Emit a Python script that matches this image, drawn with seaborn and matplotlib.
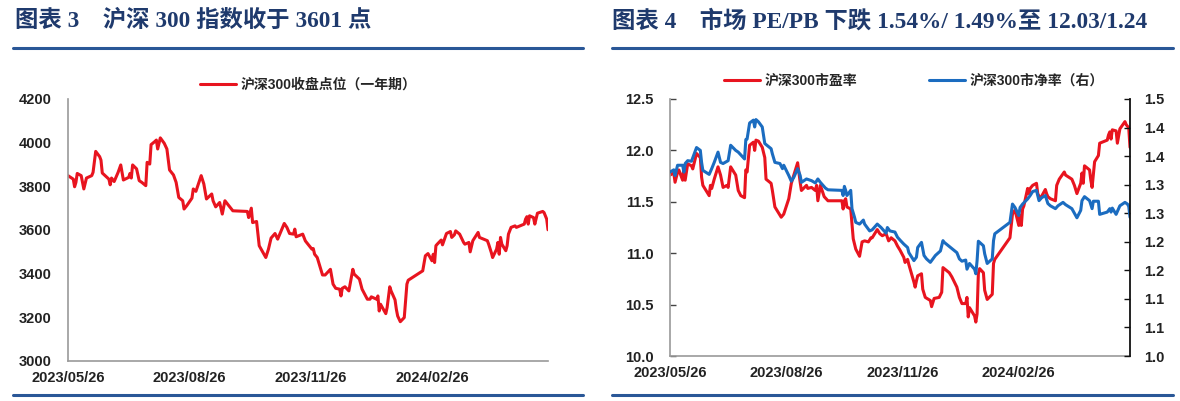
import pandas as pd
import numpy as np
import matplotlib
matplotlib.use('Agg')
import matplotlib.pyplot as plt
from matplotlib.lines import Line2D
import seaborn as sns

# 沪深300 收盘点位
hs300_dates = [
    '2023-05-26', '2023-05-30', '2023-05-31', '2023-06-01', '2023-06-02', '2023-06-05', '2023-06-07', '2023-06-09', '2023-06-13', '2023-06-14', '2023-06-16', '2023-06-19', '2023-06-20', '2023-06-21', '2023-06-26', '2023-06-27', '2023-06-28', '2023-06-30',
    '2023-07-03', '2023-07-05', '2023-07-07', '2023-07-11', '2023-07-12', '2023-07-13', '2023-07-14', '2023-07-17', '2023-07-19', '2023-07-21', '2023-07-24', '2023-07-25', '2023-07-27', '2023-07-28', '2023-07-31',
    '2023-08-01', '2023-08-02', '2023-08-04', '2023-08-07', '2023-08-09', '2023-08-11', '2023-08-14', '2023-08-16', '2023-08-18', '2023-08-21', '2023-08-22', '2023-08-24', '2023-08-28', '2023-08-29', '2023-08-31',
    '2023-09-04', '2023-09-06', '2023-09-08', '2023-09-12', '2023-09-13', '2023-09-15', '2023-09-18', '2023-09-20', '2023-09-22', '2023-09-25', '2023-09-26', '2023-09-28',
    '2023-10-09', '2023-10-10', '2023-10-12', '2023-10-13', '2023-10-16', '2023-10-18', '2023-10-23', '2023-10-25', '2023-10-27', '2023-10-30',
    '2023-11-01', '2023-11-06', '2023-11-08', '2023-11-10', '2023-11-13', '2023-11-14', '2023-11-15', '2023-11-20', '2023-11-22', '2023-11-27', '2023-11-28', '2023-11-29',
    '2023-12-01', '2023-12-05', '2023-12-07', '2023-12-11', '2023-12-13', '2023-12-15', '2023-12-18', '2023-12-19', '2023-12-20', '2023-12-22', '2023-12-25', '2023-12-28', '2023-12-29',
    '2024-01-02', '2024-01-04', '2024-01-08', '2024-01-10', '2024-01-11', '2024-01-15', '2024-01-16', '2024-01-17', '2024-01-18', '2024-01-22', '2024-01-23', '2024-01-25', '2024-01-26', '2024-01-29', '2024-01-30', '2024-01-31',
    '2024-02-02', '2024-02-05', '2024-02-07', '2024-02-08', '2024-02-19', '2024-02-21', '2024-02-23', '2024-02-26', '2024-02-27', '2024-02-28', '2024-02-29',
    '2024-03-01', '2024-03-04', '2024-03-05', '2024-03-07', '2024-03-08', '2024-03-11', '2024-03-12', '2024-03-14', '2024-03-15', '2024-03-18', '2024-03-21', '2024-03-22', '2024-03-25', '2024-03-26', '2024-03-28',
    '2024-04-01', '2024-04-02', '2024-04-08', '2024-04-09', '2024-04-11', '2024-04-12', '2024-04-15', '2024-04-16', '2024-04-17', '2024-04-18', '2024-04-19', '2024-04-22', '2024-04-23', '2024-04-24', '2024-04-26', '2024-04-29', '2024-04-30',
    '2024-05-06', '2024-05-07', '2024-05-08', '2024-05-09', '2024-05-10', '2024-05-13', '2024-05-14', '2024-05-16', '2024-05-20', '2024-05-21', '2024-05-23', '2024-05-24',
]
hs300_close = [
    3849, 3833, 3798, 3818, 3859, 3849, 3788, 3838, 3849, 3864, 3960, 3936, 3920, 3861, 3833, 3807, 3838, 3822,
    3864, 3898, 3829, 3841, 3859, 3838, 3898, 3880, 3826, 3818, 3803, 3910, 3902, 3991, 4006,
    4012, 3971, 4022, 3997, 3971, 3875, 3852, 3818, 3749, 3734, 3696, 3711, 3746, 3788, 3777,
    3849, 3811, 3742, 3765, 3734, 3706, 3726, 3673, 3734, 3711, 3703, 3688,
    3685, 3657, 3700, 3634, 3639, 3528, 3474, 3512, 3563, 3584,
    3558, 3630, 3612, 3584, 3581, 3604, 3569, 3581, 3550, 3512, 3515, 3489,
    3474, 3394, 3394, 3420, 3352, 3333, 3329, 3298, 3333, 3340, 3321, 3420, 3398,
    3375, 3329, 3283, 3283, 3294, 3283, 3298, 3229, 3260, 3217, 3245, 3340, 3321, 3280, 3237, 3206,
    3180, 3199, 3352, 3370, 3413, 3482, 3492, 3459, 3489, 3451, 3528,
    3535, 3554, 3532, 3566, 3584, 3593, 3566, 3578, 3596, 3581, 3543, 3535, 3543, 3500, 3551,
    3589, 3566, 3551, 3535, 3497, 3474, 3512, 3543, 3489, 3566, 3535, 3505, 3528, 3581, 3612, 3619, 3612,
    3627, 3650, 3661, 3627, 3665, 3657, 3627, 3677, 3685, 3680, 3650, 3601,
]

# 沪深300 市盈率
pe_dates = [
    '2023-05-26', '2023-05-29', '2023-05-30', '2023-06-01', '2023-06-02', '2023-06-05', '2023-06-06', '2023-06-07', '2023-06-09', '2023-06-12', '2023-06-13', '2023-06-16', '2023-06-19', '2023-06-20', '2023-06-21', '2023-06-26', '2023-06-27', '2023-06-28', '2023-06-30',
    '2023-07-03', '2023-07-05', '2023-07-07', '2023-07-10', '2023-07-11', '2023-07-13', '2023-07-17', '2023-07-19', '2023-07-21', '2023-07-24', '2023-07-25', '2023-07-26', '2023-07-28', '2023-07-31',
    '2023-08-01', '2023-08-02', '2023-08-04', '2023-08-07', '2023-08-09', '2023-08-10', '2023-08-14', '2023-08-15', '2023-08-17', '2023-08-21', '2023-08-22', '2023-08-24', '2023-08-28', '2023-08-30',
    '2023-09-01', '2023-09-04', '2023-09-06', '2023-09-07', '2023-09-11', '2023-09-12', '2023-09-15', '2023-09-18', '2023-09-19', '2023-09-20', '2023-09-22', '2023-09-25', '2023-09-28',
    '2023-10-09', '2023-10-10', '2023-10-11', '2023-10-12', '2023-10-13', '2023-10-16', '2023-10-17', '2023-10-18', '2023-10-20', '2023-10-23', '2023-10-25', '2023-10-27', '2023-10-30',
    '2023-11-01', '2023-11-02', '2023-11-06', '2023-11-08', '2023-11-10', '2023-11-13', '2023-11-15', '2023-11-17', '2023-11-20', '2023-11-22', '2023-11-24', '2023-11-27', '2023-11-28', '2023-11-30',
    '2023-12-01', '2023-12-05', '2023-12-06', '2023-12-07', '2023-12-08', '2023-12-11', '2023-12-12', '2023-12-14', '2023-12-18', '2023-12-19', '2023-12-21', '2023-12-25', '2023-12-27', '2023-12-28',
    '2024-01-02', '2024-01-04', '2024-01-08', '2024-01-10', '2024-01-12', '2024-01-15', '2024-01-16', '2024-01-17', '2024-01-18', '2024-01-22', '2024-01-23', '2024-01-24', '2024-01-25', '2024-01-26', '2024-01-29', '2024-01-30',
    '2024-02-01', '2024-02-05', '2024-02-06', '2024-02-07', '2024-02-19', '2024-02-21', '2024-02-23', '2024-02-26', '2024-02-27', '2024-02-28', '2024-02-29',
    '2024-03-01', '2024-03-04', '2024-03-05', '2024-03-06', '2024-03-08', '2024-03-11', '2024-03-12', '2024-03-14', '2024-03-18', '2024-03-19', '2024-03-20', '2024-03-22', '2024-03-26', '2024-03-27', '2024-03-29',
    '2024-04-02', '2024-04-03', '2024-04-08', '2024-04-10', '2024-04-12', '2024-04-15', '2024-04-16', '2024-04-17', '2024-04-18', '2024-04-22', '2024-04-23', '2024-04-24', '2024-04-25', '2024-04-26', '2024-04-29', '2024-04-30',
    '2024-05-06', '2024-05-07', '2024-05-08', '2024-05-09', '2024-05-10', '2024-05-13', '2024-05-14', '2024-05-16', '2024-05-20', '2024-05-21', '2024-05-23', '2024-05-24',
]
pe_values = [
    11.76, 11.78, 11.69, 11.79, 11.81, 11.71, 11.84, 11.71, 11.87, 11.85, 11.82, 11.97, 11.93, 11.74, 11.66, 11.56, 11.66, 11.63, 11.72,
    11.84, 11.76, 11.64, 11.66, 11.64, 11.84, 11.76, 11.61, 11.56, 11.54, 11.81, 11.79, 12.05, 12.08,
    12.00, 12.10, 12.09, 12.03, 11.93, 11.72, 11.68, 11.61, 11.45, 11.37, 11.35, 11.38, 11.53, 11.68,
    11.76, 11.88, 11.69, 11.61, 11.66, 11.63, 11.64, 11.61, 11.66, 11.51, 11.66, 11.55, 11.51,
    11.51, 11.43, 11.51, 11.53, 11.45, 11.43, 11.29, 11.14, 11.04, 10.97, 11.11, 11.12, 11.11,
    11.15, 11.15, 11.23, 11.19, 11.17, 11.19, 11.12, 11.15, 11.12, 11.07, 11.03, 10.96, 10.91, 10.94,
    10.89, 10.72, 10.67, 10.73, 10.78, 10.80, 10.65, 10.57, 10.54, 10.48, 10.56, 10.57, 10.62, 10.86,
    10.81, 10.77, 10.67, 10.57, 10.51, 10.51, 10.57, 10.38, 10.47, 10.39, 10.33, 10.41, 10.80, 10.85, 10.81, 10.64,
    10.55, 10.60, 10.90, 10.94, 11.15, 11.38, 11.42, 11.27, 11.37, 11.27, 11.43,
    11.46, 11.63, 11.58, 11.63, 11.66, 11.68, 11.58, 11.53, 11.62, 11.58, 11.55, 11.53, 11.51, 11.66, 11.72,
    11.79, 11.76, 11.72, 11.66, 11.58, 11.68, 11.78, 11.68, 11.85, 11.81, 11.71, 11.64, 11.77, 11.89, 11.95, 12.07,
    12.10, 12.15, 12.18, 12.11, 12.20, 12.19, 12.07, 12.21, 12.28, 12.25, 12.22, 12.03,
]

# 沪深300 市净率 (右轴)
pb_dates = [
    '2023-05-26', '2023-05-29', '2023-05-30', '2023-06-01', '2023-06-05', '2023-06-06', '2023-06-07', '2023-06-09', '2023-06-12', '2023-06-16', '2023-06-19', '2023-06-20', '2023-06-21', '2023-06-26', '2023-06-28', '2023-06-30',
    '2023-07-03', '2023-07-05', '2023-07-07', '2023-07-11', '2023-07-13', '2023-07-17', '2023-07-19', '2023-07-24', '2023-07-25', '2023-07-26', '2023-07-28', '2023-07-31',
    '2023-08-01', '2023-08-02', '2023-08-04', '2023-08-07', '2023-08-09', '2023-08-14', '2023-08-15', '2023-08-17', '2023-08-21', '2023-08-23', '2023-08-24', '2023-08-28', '2023-08-30',
    '2023-09-01', '2023-09-04', '2023-09-06', '2023-09-07', '2023-09-11', '2023-09-15', '2023-09-18', '2023-09-20', '2023-09-22', '2023-09-26', '2023-09-28',
    '2023-10-09', '2023-10-10', '2023-10-11', '2023-10-12', '2023-10-13', '2023-10-16', '2023-10-17', '2023-10-19', '2023-10-20', '2023-10-23', '2023-10-26', '2023-10-27', '2023-10-31',
    '2023-11-02', '2023-11-06', '2023-11-09', '2023-11-13', '2023-11-14', '2023-11-16', '2023-11-20', '2023-11-22', '2023-11-24', '2023-11-27', '2023-11-30',
    '2023-12-01', '2023-12-05', '2023-12-07', '2023-12-08', '2023-12-11', '2023-12-12', '2023-12-13', '2023-12-15', '2023-12-18', '2023-12-20', '2023-12-22', '2023-12-26', '2023-12-28', '2023-12-29',
    '2024-01-03', '2024-01-08', '2024-01-10', '2024-01-12', '2024-01-15', '2024-01-16', '2024-01-18', '2024-01-22', '2024-01-23', '2024-01-24', '2024-01-25', '2024-01-26', '2024-01-29', '2024-01-30',
    '2024-02-01', '2024-02-05', '2024-02-06', '2024-02-07', '2024-02-19', '2024-02-21', '2024-02-23', '2024-02-26', '2024-02-27', '2024-02-29',
    '2024-03-04', '2024-03-06', '2024-03-08', '2024-03-11', '2024-03-13', '2024-03-15', '2024-03-18', '2024-03-20', '2024-03-22', '2024-03-26', '2024-03-28',
    '2024-04-01', '2024-04-03', '2024-04-08', '2024-04-12', '2024-04-15', '2024-04-16', '2024-04-18', '2024-04-22', '2024-04-24', '2024-04-25', '2024-04-29', '2024-04-30',
    '2024-05-06', '2024-05-08', '2024-05-09', '2024-05-10', '2024-05-13', '2024-05-16', '2024-05-20', '2024-05-22', '2024-05-23', '2024-05-24',
]
pb_values = [
    1.322, 1.326, 1.316, 1.334, 1.334, 1.322, 1.337, 1.342, 1.341, 1.365, 1.360, 1.339, 1.325, 1.318, 1.328, 1.339,
    1.357, 1.339, 1.337, 1.342, 1.369, 1.360, 1.357, 1.345, 1.379, 1.380, 1.408, 1.413,
    1.401, 1.414, 1.410, 1.401, 1.372, 1.363, 1.354, 1.339, 1.337, 1.328, 1.334, 1.316, 1.306,
    1.313, 1.328, 1.316, 1.304, 1.310, 1.307, 1.303, 1.310, 1.304, 1.294, 1.291,
    1.290, 1.281, 1.297, 1.290, 1.281, 1.290, 1.258, 1.243, 1.234, 1.231, 1.238, 1.231, 1.219,
    1.221, 1.231, 1.225, 1.215, 1.225, 1.219, 1.217, 1.208, 1.203, 1.196, 1.190,
    1.181, 1.167, 1.173, 1.190, 1.199, 1.187, 1.176, 1.170, 1.164, 1.170, 1.176, 1.184, 1.202, 1.199,
    1.190, 1.181, 1.170, 1.166, 1.168, 1.152, 1.162, 1.152, 1.144, 1.167, 1.201, 1.199, 1.193, 1.179,
    1.162, 1.170, 1.202, 1.214, 1.234, 1.266, 1.260, 1.246, 1.260, 1.266,
    1.275, 1.281, 1.288, 1.290, 1.272, 1.277, 1.281, 1.267, 1.263, 1.258, 1.263,
    1.269, 1.265, 1.258, 1.242, 1.255, 1.272, 1.279, 1.272, 1.258, 1.271, 1.271, 1.248,
    1.252, 1.258, 1.252, 1.259, 1.248, 1.263, 1.269, 1.266, 1.262, 1.243,
]

x_tick_dates = ['2023-05-26', '2023-08-26', '2023-11-26', '2024-02-26']
x_tick_labels = ['2023/05/26', '2023/08/26', '2023/11/26', '2024/02/26']
hs300_yticks = [3000, 3200, 3400, 3600, 3800, 4000, 4200]
pe_yticks = [10.0, 10.5, 11.0, 11.5, 12.0, 12.5]
pe_ytick_labels = ['10.0', '10.5', '11.0', '11.5', '12.0', '12.5']
pb_yticks = [1.0, 1.05, 1.1, 1.15, 1.2, 1.25, 1.3, 1.35, 1.4, 1.45]
pb_ytick_labels = ['1.0', '1.1', '1.1', '1.2', '1.2', '1.3', '1.3', '1.4', '1.4', '1.5']

title_left = '图表 3    沪深 300 指数收于 3601 点'
title_right = '图表 4    市场 PE/PB 下跌 1.54%/ 1.49%至 12.03/1.24'

df_hs = pd.DataFrame({'date': pd.to_datetime(hs300_dates), 'close': hs300_close})
df_pe = pd.DataFrame({'date': pd.to_datetime(pe_dates), 'pe': pe_values})
df_pb = pd.DataFrame({'date': pd.to_datetime(pb_dates), 'pb': pb_values})

sns.set_style('white')
plt.rcParams['font.family'] = ['Liberation Sans', 'Noto Sans CJK SC']
plt.rcParams['font.weight'] = 'bold'

RED = '#e8141f'
BLUE = '#1b6cc0'
NAVY = '#1f3a6d'
RULE = '#2a5797'
GRAY = '#9a9a9a'

W, H = 1180, 401
fig = plt.figure(figsize=(W / 100, H / 100), dpi=100)
ax1 = fig.add_axes([68 / W, 1 - 361 / H, 480 / W, 262 / H])
ax2 = fig.add_axes([670 / W, 1 - 356 / H, 460 / W, 257 / H])
ax3 = ax2.twinx()

xmin, xmax = pd.Timestamp('2023-05-26'), pd.Timestamp('2024-05-24')

# left chart
sns.lineplot(data=df_hs, x='date', y='close', ax=ax1, color=RED, lw=2.2,
             label='沪深300收盘点位（一年期）', errorbar=None)
ax1.set_xlim(xmin, xmax)
ax1.set_ylim(3000, 4200)
ax1.set_yticks(hs300_yticks)
ax1.set_xticks(pd.to_datetime(x_tick_dates))
ax1.set_xticklabels(x_tick_labels)
ax1.legend(loc='lower center', bbox_to_anchor=(0.5, 1.0), frameon=False,
           handlelength=2.6, handletextpad=0.3, fontsize=10, borderaxespad=0.1)

# right chart
sns.lineplot(data=df_pe, x='date', y='pe', ax=ax2, color=RED, lw=2.2,
             label='沪深300市盈率', errorbar=None)
sns.lineplot(data=df_pb, x='date', y='pb', ax=ax3, color=BLUE, lw=2.2,
             label='沪深300市净率（右）', errorbar=None)
ax2.set_xlim(xmin, xmax)
ax2.set_ylim(10.0, 12.5)
ax2.set_yticks(pe_yticks)
ax2.set_yticklabels(pe_ytick_labels)
ax3.set_ylim(1.0, 1.45)
ax3.set_yticks(pb_yticks)
ax3.set_yticklabels(pb_ytick_labels)
ax2.set_xticks(pd.to_datetime(x_tick_dates))
ax2.set_xticklabels(x_tick_labels)
h1, l1 = ax2.get_legend_handles_labels()
h2, l2 = ax3.get_legend_handles_labels()
ax3.get_legend().remove()
ax2.legend(h1 + h2, l1 + l2, loc='lower center', bbox_to_anchor=(0.53, 1.0), ncol=2,
           frameon=False, handlelength=2.6, handletextpad=0.3, columnspacing=5.2,
           fontsize=10, borderaxespad=0.4)

for ax in (ax1, ax2, ax3):
    ax.set_xlabel('')
    ax.set_ylabel('')
    for s in ax.spines.values():
        s.set_visible(False)

for ax in (ax1, ax2):
    ax.spines['left'].set_visible(True)
    ax.spines['bottom'].set_visible(True)
    ax.spines['left'].set_color(GRAY)
    ax.spines['bottom'].set_color(GRAY)
    ax.spines['left'].set_linewidth(1.2)
    ax.spines['bottom'].set_linewidth(1.2)
    ax.tick_params(axis='y', direction='in', length=4, width=1, color='#444444',
                   labelsize=10.5, pad=12, labelcolor='#222222')
    ax.tick_params(axis='x', direction='in', length=4, width=1, color=GRAY,
                   labelsize=10.5, pad=7, labelcolor='#222222')

ax3.spines['right'].set_visible(True)
ax3.spines['right'].set_color('#111111')
ax3.spines['right'].set_linewidth(1.3)
ax3.tick_params(axis='y', direction='in', length=4, width=1, color='#111111',
                labelsize=10.5, pad=10, labelcolor='#222222')

# headers and rules
title_font = dict(family=['Liberation Serif', 'Noto Sans CJK SC'], weight='bold',
                  size=16.8, color=NAVY)
fig.text(15 / W, 1 - 21 / H, title_left, va='center', ha='left', **title_font)
fig.text(612 / W, 1 - 21 / H, title_right, va='center', ha='left', **title_font)

for x0, x1 in ((13, 583), (612, 1173)):
    for y in (48, 395):
        fig.add_artist(Line2D([x0 / W, x1 / W], [1 - y / H, 1 - y / H],
                              color=RULE, lw=2.2, transform=fig.transFigure))

fig.savefig('out.png', dpi=100)
